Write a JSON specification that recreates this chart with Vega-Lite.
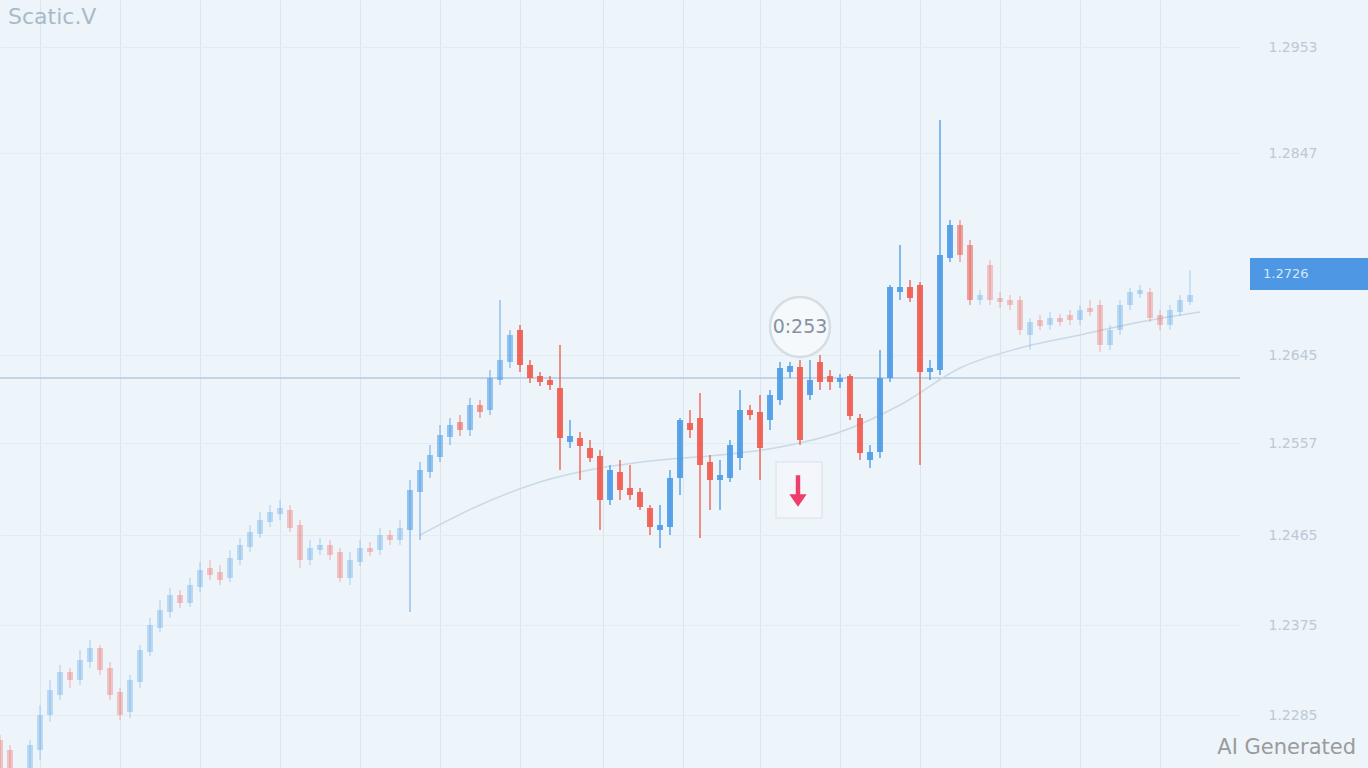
{
  "$schema": "https://vega.github.io/schema/vega-lite/v6.json",
  "width": 1240,
  "height": 768,
  "autosize": {"type": "none"},
  "padding": {"left": 0, "top": 0, "right": 128, "bottom": 0},
  "background": "#edf4fa",
  "config": {"view": {"stroke": null}, "font": "DejaVu Sans"},
  "datasets": {
    "far": [
      {"t":0,"o":1.2260,"c":1.2232,"h":1.2265,"l":1.2232},
      {"t":1,"o":1.2250,"c":1.2232,"h":1.2255,"l":1.2232},
      {"t":3,"o":1.2232,"c":1.2255,"h":1.2260,"l":1.2232},
      {"t":4,"o":1.2250,"c":1.2285,"h":1.2295,"l":1.2240},
      {"t":5,"o":1.2285,"c":1.2310,"h":1.2320,"l":1.2278},
      {"t":6,"o":1.2305,"c":1.2328,"h":1.2335,"l":1.2300},
      {"t":7,"o":1.2328,"c":1.2320,"h":1.2332,"l":1.2312},
      {"t":8,"o":1.2320,"c":1.2340,"h":1.2350,"l":1.2315},
      {"t":9,"o":1.2338,"c":1.2352,"h":1.2360,"l":1.2332},
      {"t":10,"o":1.2352,"c":1.2330,"h":1.2355,"l":1.2325},
      {"t":11,"o":1.2332,"c":1.2305,"h":1.2338,"l":1.2300},
      {"t":12,"o":1.2308,"c":1.2285,"h":1.2312,"l":1.2280},
      {"t":13,"o":1.2288,"c":1.2320,"h":1.2325,"l":1.2282},
      {"t":14,"o":1.2318,"c":1.2350,"h":1.2355,"l":1.2312},
      {"t":15,"o":1.2348,"c":1.2375,"h":1.2382,"l":1.2344},
      {"t":16,"o":1.2372,"c":1.2390,"h":1.2400,"l":1.2368},
      {"t":17,"o":1.2388,"c":1.2405,"h":1.2412,"l":1.2382},
      {"t":18,"o":1.2405,"c":1.2397,"h":1.2410,"l":1.2392},
      {"t":19,"o":1.2397,"c":1.2415,"h":1.2422,"l":1.2393},
      {"t":20,"o":1.2413,"c":1.2430,"h":1.2438,"l":1.2408},
      {"t":21,"o":1.2432,"c":1.2425,"h":1.2440,"l":1.2420},
      {"t":22,"o":1.2428,"c":1.2420,"h":1.2435,"l":1.2415},
      {"t":23,"o":1.2422,"c":1.2442,"h":1.2450,"l":1.2418},
      {"t":24,"o":1.2440,"c":1.2455,"h":1.2462,"l":1.2435},
      {"t":25,"o":1.2453,"c":1.2468,"h":1.2475,"l":1.2448},
      {"t":26,"o":1.2466,"c":1.2480,"h":1.2488,"l":1.2462},
      {"t":27,"o":1.2478,"c":1.2488,"h":1.2495,"l":1.2473},
      {"t":28,"o":1.2486,"c":1.2492,"h":1.2500,"l":1.2480},
      {"t":29,"o":1.2490,"c":1.2472,"h":1.2495,"l":1.2468},
      {"t":30,"o":1.2475,"c":1.2440,"h":1.2480,"l":1.2432},
      {"t":31,"o":1.2440,"c":1.2452,"h":1.2460,"l":1.2435},
      {"t":32,"o":1.2450,"c":1.2455,"h":1.2462,"l":1.2445},
      {"t":33,"o":1.2455,"c":1.2445,"h":1.2460,"l":1.2440},
      {"t":34,"o":1.2448,"c":1.2422,"h":1.2452,"l":1.2418},
      {"t":35,"o":1.2422,"c":1.2440,"h":1.2448,"l":1.2415},
      {"t":36,"o":1.2438,"c":1.2452,"h":1.2460,"l":1.2434},
      {"t":37,"o":1.2452,"c":1.2448,"h":1.2458,"l":1.2444},
      {"t":38,"o":1.2450,"c":1.2465,"h":1.2472,"l":1.2445},
      {"t":39,"o":1.2465,"c":1.2460,"h":1.2470,"l":1.2455},
      {"t":40,"o":1.2460,"c":1.2472,"h":1.2480,"l":1.2455},
      {"t":98,"o":1.2700,"c":1.2705,"h":1.2710,"l":1.2695},
      {"t":99,"o":1.2735,"c":1.2700,"h":1.2740,"l":1.2695},
      {"t":100,"o":1.2702,"c":1.2698,"h":1.2708,"l":1.2692},
      {"t":101,"o":1.2700,"c":1.2695,"h":1.2705,"l":1.2690},
      {"t":102,"o":1.2700,"c":1.2670,"h":1.2704,"l":1.2665},
      {"t":103,"o":1.2665,"c":1.2678,"h":1.2682,"l":1.2650},
      {"t":104,"o":1.2680,"c":1.2674,"h":1.2685,"l":1.2670},
      {"t":105,"o":1.2675,"c":1.2682,"h":1.2688,"l":1.2670},
      {"t":106,"o":1.2682,"c":1.2678,"h":1.2686,"l":1.2674},
      {"t":107,"o":1.2685,"c":1.2680,"h":1.2690,"l":1.2675},
      {"t":108,"o":1.2680,"c":1.2690,"h":1.2695,"l":1.2675},
      {"t":109,"o":1.2692,"c":1.2688,"h":1.2700,"l":1.2684},
      {"t":110,"o":1.2695,"c":1.2655,"h":1.2700,"l":1.2648},
      {"t":111,"o":1.2655,"c":1.2670,"h":1.2675,"l":1.2650},
      {"t":112,"o":1.2670,"c":1.2695,"h":1.2700,"l":1.2665},
      {"t":113,"o":1.2695,"c":1.2708,"h":1.2712,"l":1.2690},
      {"t":114,"o":1.2706,"c":1.2710,"h":1.2715,"l":1.2702},
      {"t":115,"o":1.2708,"c":1.2682,"h":1.2712,"l":1.2678},
      {"t":116,"o":1.2685,"c":1.2675,"h":1.2690,"l":1.2670},
      {"t":117,"o":1.2675,"c":1.2690,"h":1.2695,"l":1.2670},
      {"t":118,"o":1.2688,"c":1.2700,"h":1.2705,"l":1.2684},
      {"t":119,"o":1.2698,"c":1.2705,"h":1.2730,"l":1.2695}
    ],
    "mid": [
      {"t":41,"o":1.2470,"c":1.2510,"h":1.2520,"l":1.2388},
      {"t":42,"o":1.2508,"c":1.2530,"h":1.2538,"l":1.2460},
      {"t":43,"o":1.2528,"c":1.2545,"h":1.2555,"l":1.2522},
      {"t":44,"o":1.2543,"c":1.2565,"h":1.2575,"l":1.2538},
      {"t":45,"o":1.2563,"c":1.2575,"h":1.2582,"l":1.2555},
      {"t":46,"o":1.2578,"c":1.2570,"h":1.2585,"l":1.2564},
      {"t":47,"o":1.2570,"c":1.2595,"h":1.2602,"l":1.2564},
      {"t":48,"o":1.2595,"c":1.2588,"h":1.2600,"l":1.2582},
      {"t":49,"o":1.2590,"c":1.2622,"h":1.2630,"l":1.2585},
      {"t":50,"o":1.2620,"c":1.2640,"h":1.2700,"l":1.2615},
      {"t":51,"o":1.2638,"c":1.2665,"h":1.2670,"l":1.2632},
      {"t":96,"o":1.2775,"c":1.2745,"h":1.2780,"l":1.2738},
      {"t":97,"o":1.2755,"c":1.2700,"h":1.2760,"l":1.2695}
    ],
    "near": [
      {"t":52,"o":1.2670,"c":1.2635,"h":1.2675,"l":1.2628},
      {"t":53,"o":1.2635,"c":1.2622,"h":1.2640,"l":1.2617},
      {"t":54,"o":1.2624,"c":1.2618,"h":1.2628,"l":1.2614},
      {"t":55,"o":1.2620,"c":1.2615,"h":1.2624,"l":1.2610},
      {"t":56,"o":1.2612,"c":1.2562,"h":1.2655,"l":1.2530},
      {"t":57,"o":1.2558,"c":1.2564,"h":1.2580,"l":1.2552},
      {"t":58,"o":1.2562,"c":1.2554,"h":1.2568,"l":1.2520},
      {"t":59,"o":1.2552,"c":1.2542,"h":1.2560,"l":1.2538},
      {"t":60,"o":1.2544,"c":1.2500,"h":1.2550,"l":1.2470},
      {"t":61,"o":1.2500,"c":1.2530,"h":1.2535,"l":1.2495},
      {"t":62,"o":1.2528,"c":1.2510,"h":1.2540,"l":1.2500},
      {"t":63,"o":1.2512,"c":1.2505,"h":1.2535,"l":1.2500},
      {"t":64,"o":1.2508,"c":1.2493,"h":1.2512,"l":1.2490},
      {"t":65,"o":1.2492,"c":1.2473,"h":1.2495,"l":1.2465},
      {"t":66,"o":1.2470,"c":1.2475,"h":1.2495,"l":1.2452},
      {"t":67,"o":1.2473,"c":1.2522,"h":1.2530,"l":1.2465},
      {"t":68,"o":1.2522,"c":1.2580,"h":1.2582,"l":1.2505},
      {"t":69,"o":1.2577,"c":1.2570,"h":1.2590,"l":1.2562},
      {"t":70,"o":1.2582,"c":1.2535,"h":1.2607,"l":1.2462},
      {"t":71,"o":1.2538,"c":1.2520,"h":1.2545,"l":1.2490},
      {"t":72,"o":1.2520,"c":1.2525,"h":1.2540,"l":1.2490},
      {"t":73,"o":1.2522,"c":1.2555,"h":1.2560,"l":1.2518},
      {"t":74,"o":1.2542,"c":1.2590,"h":1.2610,"l":1.2530},
      {"t":75,"o":1.2590,"c":1.2585,"h":1.2595,"l":1.2580},
      {"t":76,"o":1.2588,"c":1.2552,"h":1.2605,"l":1.2520},
      {"t":77,"o":1.2580,"c":1.2605,"h":1.2610,"l":1.2570},
      {"t":78,"o":1.2600,"c":1.2632,"h":1.2638,"l":1.2595},
      {"t":79,"o":1.2628,"c":1.2634,"h":1.2638,"l":1.2622},
      {"t":80,"o":1.2633,"c":1.2560,"h":1.2640,"l":1.2555},
      {"t":81,"o":1.2605,"c":1.2620,"h":1.2640,"l":1.2600},
      {"t":82,"o":1.2638,"c":1.2618,"h":1.2645,"l":1.2610},
      {"t":83,"o":1.2624,"c":1.2618,"h":1.2630,"l":1.2610},
      {"t":84,"o":1.2618,"c":1.2622,"h":1.2626,"l":1.2612},
      {"t":85,"o":1.2624,"c":1.2584,"h":1.2626,"l":1.2580},
      {"t":86,"o":1.2582,"c":1.2547,"h":1.2586,"l":1.2540},
      {"t":87,"o":1.2540,"c":1.2548,"h":1.2555,"l":1.2532},
      {"t":88,"o":1.2548,"c":1.2622,"h":1.2650,"l":1.2542},
      {"t":89,"o":1.2622,"c":1.2713,"h":1.2715,"l":1.2618},
      {"t":90,"o":1.2708,"c":1.2713,"h":1.2755,"l":1.2700},
      {"t":91,"o":1.2713,"c":1.2702,"h":1.2720,"l":1.2698},
      {"t":92,"o":1.2715,"c":1.2628,"h":1.2718,"l":1.2535},
      {"t":93,"o":1.2628,"c":1.2632,"h":1.2640,"l":1.2620},
      {"t":94,"o":1.2630,"c":1.2745,"h":1.2880,"l":1.2625},
      {"t":95,"o":1.2742,"c":1.2775,"h":1.2780,"l":1.2738}
    ],
    "ma": [
      {"t":42,"v":1.2465},{"t":48,"v":1.2495},{"t":54,"v":1.2518},{"t":60,"v":1.2532},
      {"t":66,"v":1.2540},{"t":72,"v":1.2545},{"t":78,"v":1.2553},{"t":84,"v":1.2568},
      {"t":90,"v":1.2595},{"t":96,"v":1.2632},{"t":102,"v":1.2652},{"t":108,"v":1.2665},
      {"t":114,"v":1.2678},{"t":120,"v":1.2688}
    ]
  },
  "encoding": {
    "x": {"field": "t", "type": "quantitative", "scale": {"domain": [0, 124], "nice": false, "zero": false, "padding": 0},
      "axis": {"title": null, "labels": false, "ticks": false, "domain": false, "grid": true,
        "gridColor": "#dbe5ee", "gridWidth": 1,
        "values": [4, 12, 20, 28, 36, 44, 52, 60.3, 68.3, 76, 84, 92, 100, 108, 116]}}
  },
  "resolve": {"scale": {"y": "shared"}},
  "layer": [
    {
      "data": {"values": [{"v": 1.2622}]},
      "mark": {"type": "rule", "color": "#b3cbe0", "strokeWidth": 1.5},
      "encoding": {
        "y": {"field": "v", "type": "quantitative", "scale": {"domain": [1.2232, 1.3], "nice": false, "zero": false, "padding": 0},
          "axis": {"orient": "right", "title": null, "ticks": false, "domain": false, "grid": true,
            "gridColor": "#e3ecf3", "labelColor": "#bccad5", "labelFontSize": 14, "labelPadding": 28,
            "format": ".4f",
            "values": [1.2953, 1.2847, 1.2645, 1.2557, 1.2465, 1.2375, 1.2285]}},
        "x": null
      }
    },
    {
      "data": {"name": "ma"},
      "mark": {"type": "line", "color": "#c9d9e6", "strokeWidth": 1.5, "interpolate": "monotone"},
      "encoding": {"y": {"field": "v", "type": "quantitative"}}
    },
    {
      "data": {"name": "far"},
      "encoding": {
        "color": {"condition": {"test": "datum.c >= datum.o", "value": "#4d9be6"}, "value": "#ef5b4f"}
      },
      "layer": [
        {"mark": {"type": "rule", "strokeWidth": 1.5, "opacity": 0.3},
         "encoding": {"y": {"field": "l", "type": "quantitative"}, "y2": {"field": "h"}}},
        {"mark": {"type": "bar", "size": 6, "opacity": 0.3},
         "encoding": {"y": {"field": "o", "type": "quantitative"}, "y2": {"field": "c"}}}
      ]
    },
    {
      "data": {"name": "mid"},
      "encoding": {
        "color": {"condition": {"test": "datum.c >= datum.o", "value": "#4d9be6"}, "value": "#ef5b4f"}
      },
      "layer": [
        {"mark": {"type": "rule", "strokeWidth": 1.5, "opacity": 0.55},
         "encoding": {"y": {"field": "l", "type": "quantitative"}, "y2": {"field": "h"}}},
        {"mark": {"type": "bar", "size": 6, "opacity": 0.55},
         "encoding": {"y": {"field": "o", "type": "quantitative"}, "y2": {"field": "c"}}}
      ]
    },
    {
      "data": {"name": "near"},
      "encoding": {
        "color": {"condition": {"test": "datum.c >= datum.o", "value": "#4d9be6"}, "value": "#ef5b4f"}
      },
      "layer": [
        {"mark": {"type": "rule", "strokeWidth": 1.5, "opacity": 0.9},
         "encoding": {"y": {"field": "l", "type": "quantitative"}, "y2": {"field": "h"}}},
        {"mark": {"type": "bar", "size": 6, "opacity": 0.9},
         "encoding": {"y": {"field": "o", "type": "quantitative"}, "y2": {"field": "c"}}}
      ]
    },
    {
      "data": {"values": [{"t": 80, "v": 1.2673}]},
      "mark": {"type": "point", "shape": "circle", "size": 3600, "filled": true, "fill": "#f5f9fc", "stroke": "#d3dde6", "strokeWidth": 2.5, "opacity": 1},
      "encoding": {"y": {"field": "v", "type": "quantitative"}}
    },
    {
      "data": {"values": [{"t": 80, "v": 1.2673, "label": "0:253"}]},
      "mark": {"type": "text", "fontSize": 19, "color": "#8592a0", "align": "center", "baseline": "middle"},
      "encoding": {"y": {"field": "v", "type": "quantitative"}, "text": {"field": "label"}}
    },
    {
      "data": {"values": [{"t": 79.9, "v": 1.2510}]},
      "mark": {"type": "point", "shape": "M-0.82,-1 L0.82,-1 L0.82,1 L-0.82,1 Z", "size": 3136, "filled": true, "fill": "#f3f7fb", "stroke": "#dfe7ee", "strokeWidth": 1.5, "opacity": 1},
      "encoding": {"y": {"field": "v", "type": "quantitative"}}
    },
    {
      "data": {"values": [{"t": 79.8, "v": 1.2509}]},
      "mark": {"type": "point", "shape": "M-0.14,-1 L0.14,-1 L0.14,0.2 L0.55,0.2 L0,1 L-0.55,0.2 L-0.14,0.2 Z", "size": 1000, "filled": true, "color": "#ee3f6a", "opacity": 1},
      "encoding": {"y": {"field": "v", "type": "quantitative"}}
    },
    {
      "data": {"values": [{"t": 125, "t2": 136.8, "v": 1.2742, "v2": 1.2710}]},
      "mark": {"type": "rect", "color": "#3b8de2", "opacity": 0.9},
      "encoding": {"x2": {"field": "t2"}, "y": {"field": "v", "type": "quantitative"}, "y2": {"field": "v2"}}
    },
    {
      "data": {"values": [{"t": 126.3, "v": 1.2726, "label": "1.2726"}]},
      "mark": {"type": "text", "fontSize": 13, "color": "#d6e6f7", "align": "left", "baseline": "middle"},
      "encoding": {"y": {"field": "v", "type": "quantitative"}, "text": {"field": "label"}}
    },
    {
      "data": {"values": [{"t": 0.8, "v": 1.2983, "label": "Scatic.V"}]},
      "mark": {"type": "text", "fontSize": 22, "color": "#a9bac7", "align": "left", "baseline": "middle"},
      "encoding": {"y": {"field": "v", "type": "quantitative"}, "text": {"field": "label"}}
    },
    {
      "data": {"values": [{"t": 135.6, "v": 1.2246, "label": "AI Generated"}]},
      "mark": {"type": "text", "fontSize": 21, "color": "#9b9b9b", "align": "right", "baseline": "alphabetic"},
      "encoding": {"y": {"field": "v", "type": "quantitative"}, "text": {"field": "label"}}
    }
  ]
}
